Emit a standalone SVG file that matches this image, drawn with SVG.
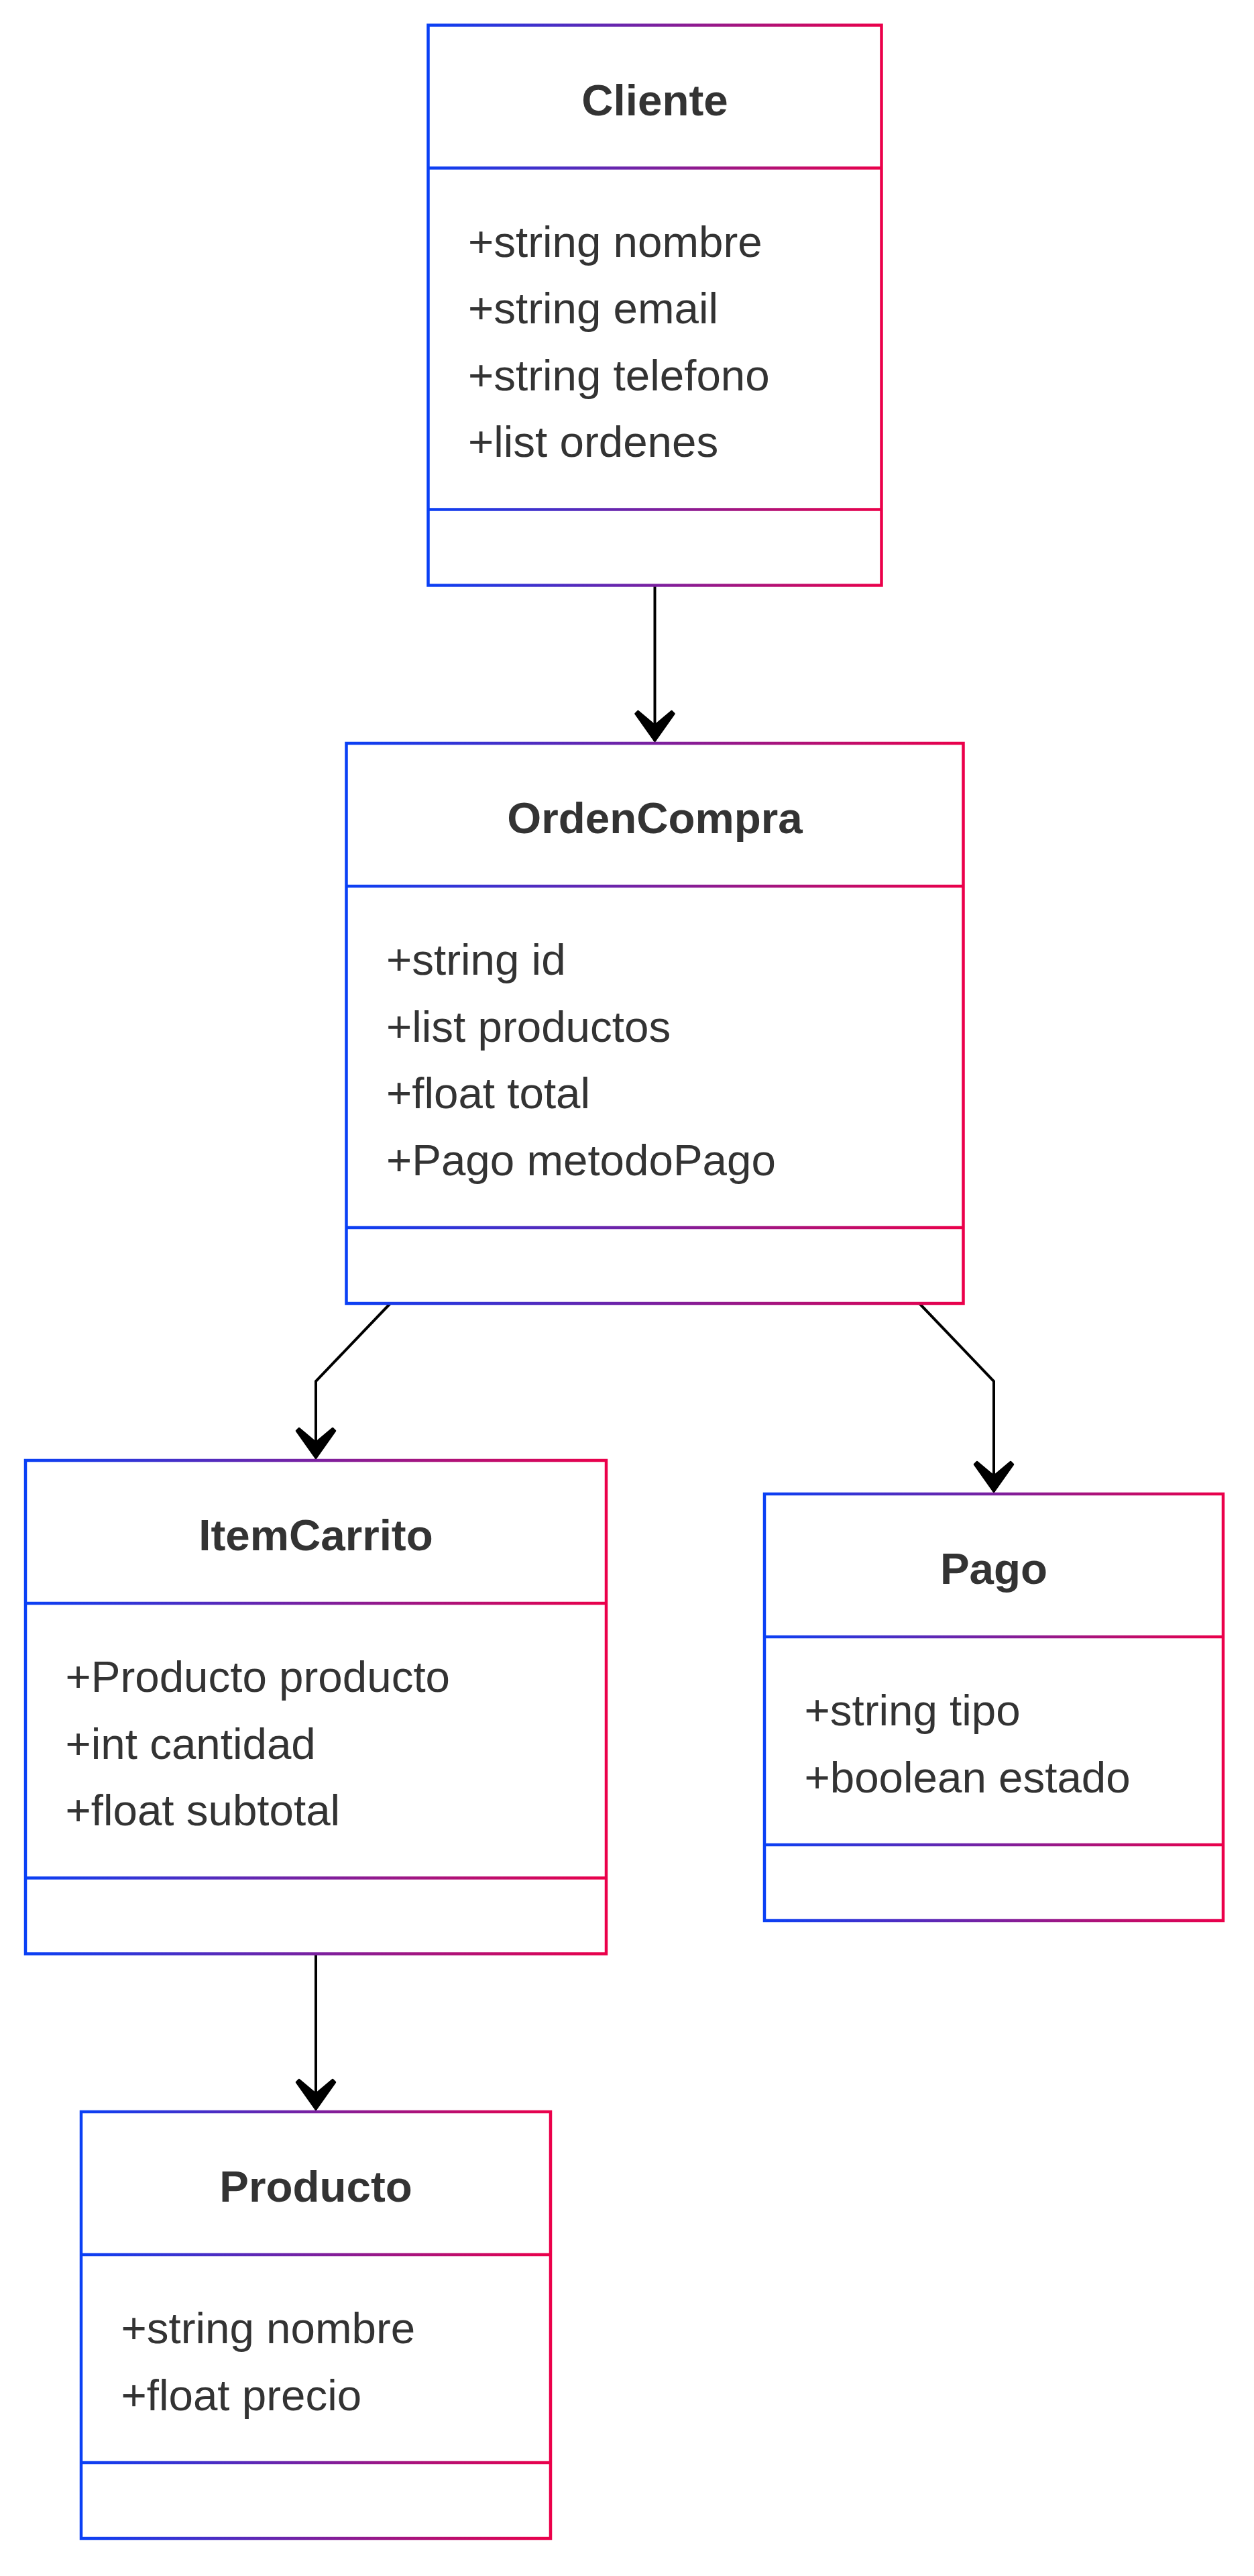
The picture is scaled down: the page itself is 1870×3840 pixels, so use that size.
<svg xmlns="http://www.w3.org/2000/svg" width="1870" height="3840" viewBox="0 0 1870 3840">
  <defs>
    <linearGradient id="g" x1="0" y1="0" x2="1" y2="0">
      <stop offset="0" stop-color="#0a40f5"/>
      <stop offset="1" stop-color="#eb004a"/>
    </linearGradient>
    <marker id="arrow" markerUnits="userSpaceOnUse" viewBox="-52 -37 59 74" refX="0" refY="0" markerWidth="59" markerHeight="74" orient="auto">
      <path d="M0,0 L-41,29 L-45,25 L-24,0 L-45,-25 L-41,-29 Z" fill="#000" stroke="#000" stroke-width="2.5" stroke-linejoin="round"/>
    </marker>
    <style>
      .box { fill: #ffffff; stroke: url(#g); stroke-width: 4.5; }
      .div { fill: url(#g); }
      .title { font-family: "Liberation Sans", Arial, sans-serif; font-size: 65.5px; font-weight: bold; fill: #333333; text-anchor: middle; }
      .attr { font-family: "Liberation Sans", Arial, sans-serif; font-size: 65.5px; fill: #333333; }
      .edge { fill: none; stroke: #000000; stroke-width: 4; marker-end: url(#arrow); }
    </style>
  </defs>
  <rect x="0" y="0" width="1870" height="3840" fill="#ffffff"/>

  <g id="connectors">
    <path class="edge" d="M976.5,872.5 L976.5,1105"/>
    <path class="edge" d="M582,1943 L471,2059 L471,2174"/>
    <path class="edge" d="M1371,1943 L1482,2059 L1482,2224"/>
    <path class="edge" d="M471,2912.5 L471,3145"/>
  </g>

  <g id="Cliente">
    <rect class="box" x="638.5" y="37.5" width="676" height="835"/>
    <rect class="div" x="638.5" y="248.25" width="676" height="4.5"/>
    <rect class="div" x="638.5" y="757.25" width="676" height="4.5"/>
    <text class="title" x="976.5" y="171.5">Cliente</text>
    <text class="attr" x="698" y="382.5">+string nombre</text>
    <text class="attr" x="698" y="482">+string email</text>
    <text class="attr" x="698" y="581.5">+string telefono</text>
    <text class="attr" x="698" y="681">+list ordenes</text>
  </g>

  <g id="OrdenCompra">
    <rect class="box" x="516.5" y="1108" width="920" height="835"/>
    <rect class="div" x="516.5" y="1318.75" width="920" height="4.5"/>
    <rect class="div" x="516.5" y="1827.75" width="920" height="4.5"/>
    <text class="title" x="976.5" y="1242">OrdenCompra</text>
    <text class="attr" x="576" y="1453">+string id</text>
    <text class="attr" x="576" y="1552.5">+list productos</text>
    <text class="attr" x="576" y="1652">+float total</text>
    <text class="attr" x="576" y="1751.5">+Pago metodoPago</text>
  </g>

  <g id="ItemCarrito">
    <rect class="box" x="38" y="2177" width="866" height="735.5"/>
    <rect class="div" x="38" y="2387.75" width="866" height="4.5"/>
    <rect class="div" x="38" y="2797.25" width="866" height="4.5"/>
    <text class="title" x="471" y="2311">ItemCarrito</text>
    <text class="attr" x="97.5" y="2522">+Producto producto</text>
    <text class="attr" x="97.5" y="2621.5">+int cantidad</text>
    <text class="attr" x="97.5" y="2721">+float subtotal</text>
  </g>

  <g id="Pago">
    <rect class="box" x="1140" y="2227" width="684" height="636"/>
    <rect class="div" x="1140" y="2437.75" width="684" height="4.5"/>
    <rect class="div" x="1140" y="2747.75" width="684" height="4.5"/>
    <text class="title" x="1482" y="2361">Pago</text>
    <text class="attr" x="1199.5" y="2572">+string tipo</text>
    <text class="attr" x="1199.5" y="2671.5">+boolean estado</text>
  </g>

  <g id="Producto">
    <rect class="box" x="121" y="3148" width="700" height="636"/>
    <rect class="div" x="121" y="3358.75" width="700" height="4.5"/>
    <rect class="div" x="121" y="3668.75" width="700" height="4.5"/>
    <text class="title" x="471" y="3282">Producto</text>
    <text class="attr" x="180.5" y="3493">+string nombre</text>
    <text class="attr" x="180.5" y="3592.5">+float precio</text>
  </g>
</svg>
